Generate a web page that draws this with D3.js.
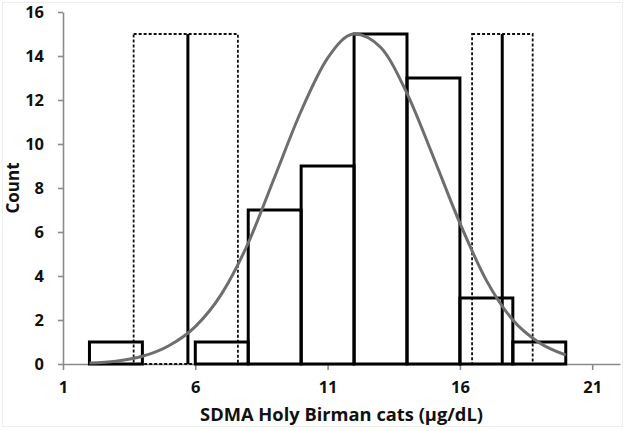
<!DOCTYPE html>
<html><head><meta charset="utf-8">
<script src="https://cdn.jsdelivr.net/npm/d3@7"></script>
<style>body{margin:0;background:#fff}svg{display:block}</style>
</head><body>
<svg id="c" width="626" height="431"></svg>
<script>
const binStarts = [2, 4, 6, 8, 10, 12, 14, 16, 18];
const binWidth = 2;
const counts = [1, 0, 1, 7, 9, 15, 13, 3, 1];
const refLines = [5.72, 17.6];
const refRangeLow = [3.67, 16.46];
const refRangeHigh = [7.61, 18.75];
const refHeight = 15;
const curveX = [2,3,4,5,6,7,8,9,10,11,12,13,14,15,16,17,18,19,20];
const curveY = [0.04,0.13,0.35,0.83,1.7,3.2,5.5,8.5,11.5,13.9,15.0,14.4,12.3,9.4,6.4,3.8,2.0,0.97,0.41];
const xTicks = [1, 6, 11, 16, 21];
const yTicks = [0, 2, 4, 6, 8, 10, 12, 14, 16];
const xLabel = "SDMA Holy Birman cats (µg/dL)";
const yLabel = "Count";

const svg = d3.select("#c");
const font = "'Open Sans', Lato, sans-serif";
const x = d3.scaleLinear().domain([1, 22.05]).range([63, 620]);
const y = d3.scaleLinear().domain([0, 16]).range([364, 12]);

// faint frame
svg.append("rect").attr("x",2.5).attr("y",2.5).attr("width",620).attr("height",424)
  .attr("fill","none").attr("stroke","#ededed").attr("stroke-width",1);

// axes
const axisColor = "#8a8a8a";
const gx = svg.append("g").attr("transform",`translate(0,${y(0)})`)
  .call(d3.axisBottom(x).tickValues(xTicks).tickSizeInner(6).tickSizeOuter(0).tickPadding(11));
const gy = svg.append("g").attr("transform",`translate(${x(1)},0)`)
  .call(d3.axisLeft(y).tickValues(yTicks).tickSizeInner(5).tickSizeOuter(0).tickPadding(14));
[gx, gy].forEach(g => {
  g.select(".domain").attr("stroke", axisColor).attr("stroke-width", 1.6);
  g.selectAll(".tick line").attr("stroke", axisColor).attr("stroke-width", 1.6);
  g.selectAll(".tick text").attr("fill","#111").attr("font-family",font)
    .attr("font-weight","bold").attr("font-size",16.5);
});
gy.selectAll(".tick text").attr("dy","0.36em");

// dashed reference ranges
svg.append("g").selectAll("rect").data(refRangeLow).join("rect")
  .attr("x",(d)=>x(d)).attr("y",y(refHeight))
  .attr("width",(d,i)=>x(refRangeHigh[i])-x(d)).attr("height",y(0)-y(refHeight))
  .attr("fill","none").attr("stroke","#111").attr("stroke-width",1.8)
  .attr("stroke-dasharray","3,2");

// histogram bars
svg.append("g").selectAll("rect").data(binStarts).join("rect")
  .attr("x",d=>x(d)).attr("y",(d,i)=>y(counts[i]))
  .attr("width",d=>x(d+binWidth)-x(d)).attr("height",(d,i)=>y(0)-y(counts[i]))
  .attr("fill","none").attr("stroke","#000").attr("stroke-width",3);

// solid reference lines
svg.append("g").selectAll("line").data(refLines).join("line")
  .attr("x1",d=>x(d)).attr("x2",d=>x(d)).attr("y1",y(0)).attr("y2",y(refHeight))
  .attr("stroke","#000").attr("stroke-width",3);

// fitted curve
svg.append("path").datum(curveX.map((d,i)=>[d,curveY[i]]))
  .attr("d", d3.line().x(d=>x(d[0])).y(d=>y(d[1])).curve(d3.curveMonotoneX))
  .attr("fill","none").attr("stroke","#6e6e6e").attr("stroke-width",3);

// labels
const xl = svg.append("text").attr("x",341.5).attr("y",421).attr("text-anchor","middle")
  .attr("font-family",font).attr("font-weight","bold").attr("font-size",17)
  .attr("fill","#111").text(xLabel);
const w = xl.node().getComputedTextLength();
if (w > 0) xl.attr("font-size", 17 * 283 / w);
svg.append("text").attr("transform","translate(19,188) rotate(-90)").attr("text-anchor","middle")
  .attr("font-family",font).attr("font-weight","bold").attr("font-size",17)
  .attr("fill","#111").text(yLabel);
</script>
</body></html>
